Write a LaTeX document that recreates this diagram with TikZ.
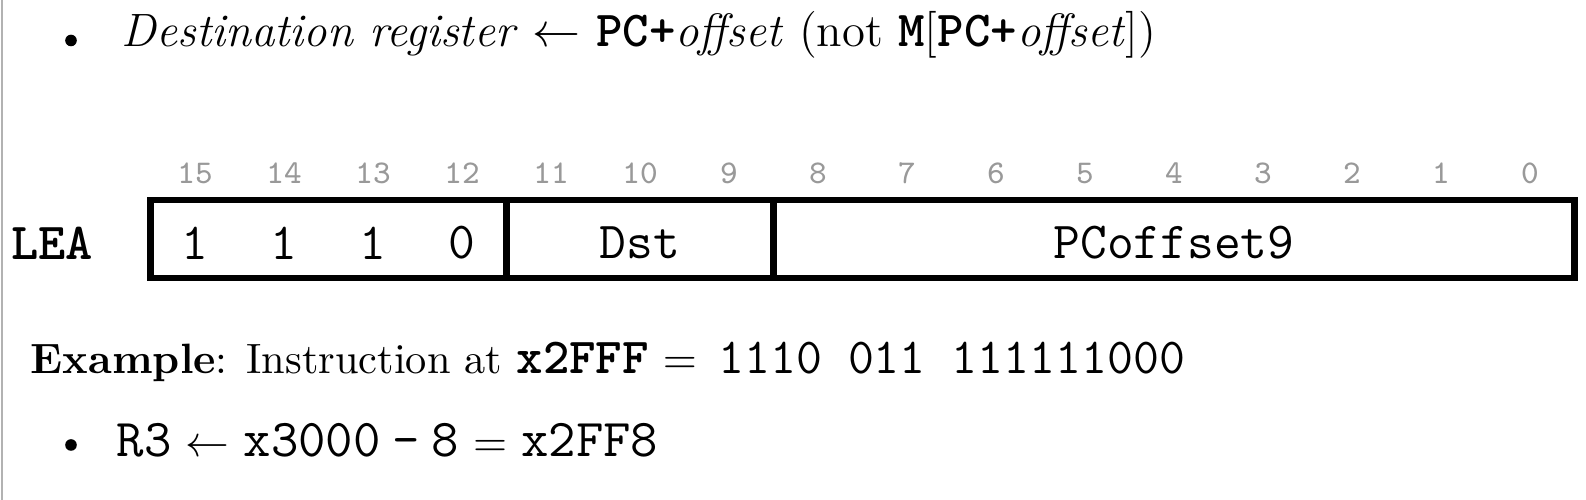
\documentclass[tikz,border=0pt]{standalone}
\usepackage{fontspec}
\newcommand{\cd}[1]{{\fontsize{12.6}{14}\selectfont\ttfamily #1}}
\newcommand{\cdl}[1]{{\fontsize{13.3}{15}\selectfont\ttfamily #1}}
\tikzset{
  field/.style={draw, line width=1.6pt, minimum height=19.5pt, inner sep=0pt, outer sep=0pt, anchor=north west},
  bitnum/.style={text=gray!80, font=\fontsize{8.3}{9}\selectfont\ttfamily, inner sep=0pt},
  bitval/.style={font=\fontsize{13}{15}\selectfont\ttfamily, inner sep=0pt},
  dot/.style={circle, fill, inner sep=0pt, minimum size=2.9pt},
  textline/.style={anchor=base west, inner sep=0pt},
}
\begin{document}
\begin{tikzpicture}[x=0.25pt,y=-0.25pt]
\useasboundingbox (0,0) rectangle (1586,500);
\draw[gray!60, line width=0.5pt] (2,0) -- (2,500);
% first bullet
\node[dot] (bul1) at (71,40.5) {};
\node[textline, font=\fontsize{11.7}{13}\selectfont] (dest) at (121,47) {\textit{Destination register} $\leftarrow$ \cd{\textbf{PC+}}\textit{offset} (not \cd{\textbf{M}}[\cd{\textbf{PC+}}\textit{offset}])};
% instruction format
\node[font=\fontsize{13}{15}\selectfont\ttfamily\bfseries, inner sep=0pt] (lea) at (52,243) {LEA};
\node[field, minimum width=89pt] (op) at (150.5,200) {};
\node[field, minimum width=66.75pt] (dst) at (op.north east) {};
\node[field, minimum width=200.25pt] (off) at (dst.north east) {};
\foreach \b in {0,...,15}
  \node[bitnum] (n\b) at ({150.5+(15-\b+0.5)*89},173.5) {\b};
\foreach \b/\v in {15/1,14/1,13/1,12/0}
  \node[bitval] (v\b) at ({150.5+(15-\b+0.5)*89},243) {\v};
\node[bitval] (dstlbl) at (640,243) {Dst};
\node[bitval] (offlbl) at (1174,243) {PCoffset9};
% example
\node[textline, font=\fontsize{10.6}{13}\selectfont] (ex) at (30,374) {\textbf{Example}: Instruction at \cd{\textbf{x2FFF}} $=$ \,\cd{1110 011 111111000}};
\node[dot] (bul2) at (71,445) {};
\node[textline, font=\fontsize{10.6}{13}\selectfont] (res) at (116,457) {\cdl{R3} $\leftarrow$ \cdl{x3000}\;\cdl{-}\;\cdl{8} $=$ \cdl{x2FF8}};
\end{tikzpicture}
\end{document}
